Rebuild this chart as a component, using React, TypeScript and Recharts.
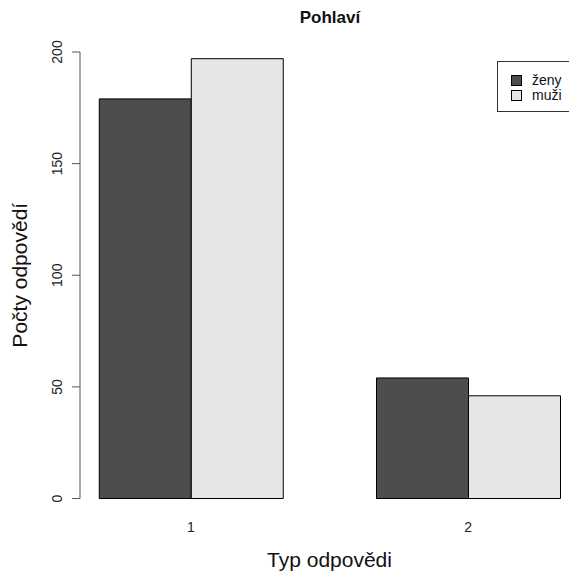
import React from 'react';
import { BarChart, Bar, XAxis, YAxis, Legend } from 'recharts';

const categories = ['1', '2'];
const seriesNames = ['ženy', 'muži'];
const zeny = [179, 54];
const muzi = [197, 46];
const yTicks = [0, 50, 100, 150, 200];

const FONT = '"Liberation Sans", Arial, sans-serif';
const DARK = '#4D4D4D';
const LIGHT = '#E6E6E6';

// barplot(beside = TRUE) puts group i around x = 2 + 3 * i
const chartData = categories.map((c, i) => ({
    pos: 2 + 3 * i,
    label: c,
    zeny: zeny[i],
    muzi: muzi[i],
}));

const YTick = (props: any) => {
    const { x, y, payload } = props;
    const tx = x - 10;
    return (
        <text x={tx} y={y} transform={`rotate(-90, ${tx}, ${y})`} textAnchor="middle" fontSize={14} fill="#222" fontFamily={FONT}>
            {payload.value}
        </text>
    );
};

const XTick = (props: any) => {
    const { x, y, index } = props;
    return (
        <text x={x} y={y + 33} textAnchor="middle" fontSize={14} fill="#222" fontFamily={FONT}>
            {categories[index]}
        </text>
    );
};

const renderLegend = (props: any) => {
    // keep the order of the series as in the original legend
    const items = [...(props.payload || [])].sort(
        (a: any, b: any) => seriesNames.indexOf(a.value) - seriesNames.indexOf(b.value)
    );
    return (
        <div style={{ border: '1px solid #333', background: '#fff', width: 90, padding: '11px 0 8px 0', fontFamily: FONT, fontSize: 14 }}>
            {items.map((p: any) => (
                <div key={p.value} style={{ display: 'flex', alignItems: 'center', height: 15, lineHeight: '15px' }}>
                    <span style={{ display: 'inline-block', width: 9, height: 9, marginLeft: 13, border: '1px solid #000', background: p.color }} />
                    <span style={{ marginLeft: 10, color: '#111' }}>{p.value}</span>
                </div>
            ))}
        </div>
    );
};

const App: React.FC = () => {
    return (
        <div style={{ position: 'relative', width: 569, height: 576, overflow: 'hidden', background: '#fff' }}>
            <style>{'body { margin: 0; overflow: hidden; }'}</style>
            <BarChart width={579} height={576} data={chartData} barGap={0} margin={{ top: 52, right: 0, bottom: 0, left: 0 }}>
                <XAxis
                    type="number"
                    dataKey="pos"
                    domain={[0.8, 6.2]}
                    ticks={[2, 5]}
                    axisLine={false}
                    tickLine={false}
                    tickSize={0}
                    tickMargin={0}
                    height={77.5}
                    tick={<XTick />}
                    label={{
                        content: ({ viewBox }: any) => (
                            <text x={viewBox.x + viewBox.width / 2} y={566.5} textAnchor="middle" fontSize={21} fill="#111" fontFamily={FONT}>
                                Typ odpovědi
                            </text>
                        ),
                    }}
                />
                <YAxis
                    type="number"
                    domain={[0, 200]}
                    ticks={yTicks}
                    width={80}
                    tickSize={8}
                    tickMargin={0}
                    stroke="#555"
                    tick={<YTick />}
                    label={{
                        content: ({ viewBox }: any) => {
                            const cy = viewBox.y + viewBox.height / 2;
                            return (
                                <text x={27} y={cy} transform={`rotate(-90, 27, ${cy})`} textAnchor="middle" fontSize={21} fill="#111" fontFamily={FONT}>
                                    Počty odpovědí
                                </text>
                            );
                        },
                    }}
                />
                <Legend
                    layout="vertical"
                    align="center"
                    verticalAlign="middle"
                    content={renderLegend}
                    wrapperStyle={{ left: 497, top: 61, width: 'auto', height: 'auto' }}
                />
                <Bar dataKey="zeny" name={seriesNames[0]} fill={DARK} stroke="#000" strokeWidth={1} barSize={92} isAnimationActive={false} />
                <Bar dataKey="muzi" name={seriesNames[1]} fill={LIGHT} stroke="#000" strokeWidth={1} barSize={92} isAnimationActive={false} />
                <text x={330} y={23} textAnchor="middle" fontSize={17} fontWeight="bold" fill="#111" fontFamily={FONT}>
                    Pohlaví
                </text>
            </BarChart>
        </div>
    );
};

export default App;
